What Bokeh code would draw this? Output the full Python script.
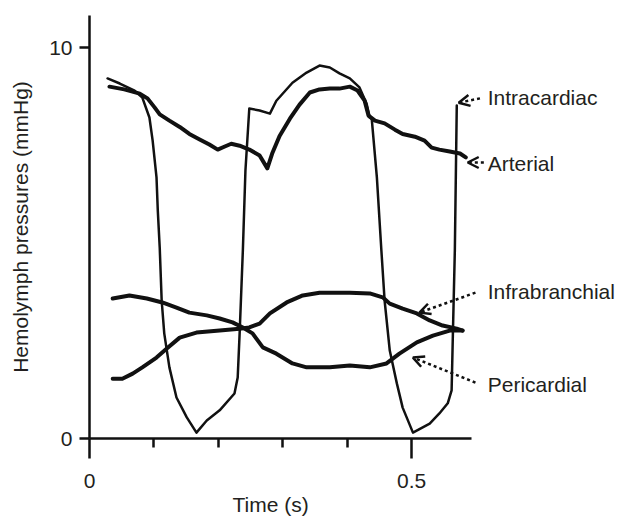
from bokeh.plotting import figure
from bokeh.models import FixedTicker, Arrow, OpenHead, Label, Title
from bokeh.embed import file_html
from bokeh.resources import INLINE

# ---- data: time (s) and hemolymph pressure (mmHg) ----
intra_t = [0.028, 0.047, 0.070, 0.082, 0.093, 0.098, 0.104, 0.106, 0.109, 0.112, 0.116, 0.124,
           0.135, 0.151, 0.166, 0.182, 0.202, 0.225, 0.230, 0.233, 0.236, 0.238, 0.242, 0.248,
           0.264, 0.280, 0.290, 0.315, 0.337, 0.357, 0.373, 0.388, 0.404, 0.419, 0.430, 0.435,
           0.438, 0.446, 0.453, 0.458, 0.466, 0.477, 0.486, 0.502, 0.528, 0.543, 0.556, 0.562,
           0.564, 0.567, 0.570]
intra_p = [9.21, 9.08, 8.90, 8.72, 8.21, 7.62, 6.68, 5.83, 4.88, 3.53, 2.69, 1.82,
           1.05, 0.54, 0.15, 0.46, 0.72, 1.15, 1.56, 2.69, 3.96, 4.81, 6.85, 8.44,
           8.39, 8.31, 8.64, 9.10, 9.36, 9.54, 9.49, 9.34, 9.21, 8.98, 8.57, 8.21,
           8.18, 6.68, 4.81, 3.53, 2.25, 1.41, 0.79, 0.15, 0.38, 0.64, 0.90, 1.23,
           2.69, 4.81, 8.52]

art_t = [0.031, 0.054, 0.078, 0.090, 0.101, 0.109, 0.124, 0.140, 0.155, 0.171, 0.186, 0.199,
         0.210, 0.220, 0.233, 0.248, 0.264, 0.276, 0.284, 0.295, 0.311, 0.326, 0.342, 0.357,
         0.373, 0.388, 0.404, 0.416, 0.427, 0.433, 0.443, 0.458, 0.474, 0.486, 0.505, 0.520,
         0.531, 0.543, 0.559, 0.575, 0.584]
art_p = [9.00, 8.93, 8.82, 8.70, 8.47, 8.29, 8.13, 7.97, 7.79, 7.65, 7.52, 7.39,
         7.47, 7.54, 7.49, 7.39, 7.24, 6.91, 7.31, 7.74, 8.18, 8.54, 8.85, 8.93,
         8.95, 8.95, 9.00, 8.90, 8.64, 8.26, 8.13, 8.06, 7.90, 7.79, 7.72, 7.62,
         7.44, 7.39, 7.34, 7.29, 7.19]

infra_t = [0.036, 0.051, 0.067, 0.082, 0.104, 0.120, 0.140, 0.166, 0.202, 0.233, 0.248, 0.264,
           0.280, 0.306, 0.331, 0.357, 0.404, 0.435, 0.455, 0.466, 0.486, 0.508, 0.528, 0.548,
           0.570, 0.579]
infra_p = [1.53, 1.53, 1.66, 1.82, 2.07, 2.30, 2.58, 2.71, 2.76, 2.81, 2.84, 2.94,
           3.20, 3.48, 3.66, 3.73, 3.73, 3.71, 3.61, 3.45, 3.32, 3.20, 3.02, 2.89,
           2.81, 2.76]

peri_t = [0.036, 0.062, 0.089, 0.113, 0.135, 0.155, 0.182, 0.202, 0.222, 0.238, 0.253, 0.269,
          0.290, 0.315, 0.337, 0.373, 0.404, 0.435, 0.461, 0.481, 0.508, 0.533, 0.559, 0.579]
peri_p = [3.58, 3.66, 3.58, 3.48, 3.35, 3.22, 3.15, 3.07, 2.97, 2.84, 2.69, 2.33,
          2.17, 1.92, 1.82, 1.82, 1.87, 1.82, 1.92, 2.17, 2.46, 2.63, 2.76, 2.76]

x_major = [0, 0.5]
x_minor = [0.1, 0.2, 0.3, 0.4]
y_major = [0, 10]

FONT = "Liberation Sans"
FS = "21px"
TXT = "#231f20"
INK = "#111111"

p = figure(frame_width=529, frame_height=423, x_range=(0, 0.821), y_range=(0, 10.82),
           output_backend="svg", toolbar_location=None,
           min_border_left=89, min_border_right=0, min_border_top=15, min_border_bottom=81)
p.xgrid.visible = False
p.ygrid.visible = False
p.outline_line_color = None
p.background_fill_color = "white"
p.border_fill_color = "white"

# x axis
xa = p.xaxis[0]
xa.ticker = FixedTicker(ticks=x_major, minor_ticks=x_minor)
xa.bounds = (0, 0.593)
xa.major_label_overrides = {0: "0", 0.5: "0.5"}
xa.major_tick_out = 20
xa.major_tick_in = 0
xa.minor_tick_out = 9
xa.minor_tick_in = 0
xa.major_label_standoff = 15

# y axis
ya = p.yaxis[0]
ya.ticker = FixedTicker(ticks=y_major, minor_ticks=[])
ya.major_tick_out = 10
ya.major_tick_in = 0
ya.minor_tick_out = 0
ya.minor_tick_in = 0
ya.major_label_standoff = 7
ya.axis_label = "Hemolymph pressures (mmHg)"
ya.axis_label_standoff = 14

for ax in (xa, ya):
    ax.axis_line_width = 2.5
    ax.axis_line_color = INK
    ax.major_tick_line_width = 2.5
    ax.major_tick_line_color = INK
    ax.minor_tick_line_width = 2.5
    ax.minor_tick_line_color = INK
    ax.major_label_text_font = FONT
    ax.major_label_text_font_size = FS
    ax.major_label_text_color = TXT
    ax.axis_label_text_font = FONT
    ax.axis_label_text_font_size = FS
    ax.axis_label_text_font_style = "normal"
    ax.axis_label_text_color = TXT

# x-axis title, centred under the drawn axis line (not the whole frame)
p.add_layout(Title(text="Time (s)", align="left", offset=143, standoff=0,
                   text_font=FONT, text_font_size=FS, text_font_style="normal",
                   text_color=TXT), "below")

# traces
p.line(art_t, art_p, line_width=4, line_color=INK, line_join="round", line_cap="round")
p.line(infra_t, infra_p, line_width=4, line_color=INK, line_join="round", line_cap="round")
p.line(peri_t, peri_p, line_width=4, line_color=INK, line_join="round", line_cap="round")
p.line(intra_t, intra_p, line_width=2.5, line_color=INK, line_join="round", line_cap="round")

# annotations: dotted arrows + labels
arrows = [
    ("Intracardiac", (0.606, 8.70), (0.573, 8.59), 8.72),
    ("Arterial", (0.612, 7.06), (0.587, 7.06), 7.03),
    ("Infrabranchial", (0.599, 3.73), (0.512, 3.22), 3.75),
    ("Pericardial", (0.599, 1.43), (0.502, 2.07), 1.38),
]
for name, (xs, ys), (xe, ye), ly in arrows:
    p.add_layout(Arrow(x_start=xs, y_start=ys, x_end=xe, y_end=ye,
                       line_dash="3 3", line_width=2.5, line_color=INK,
                       end=OpenHead(size=11, line_width=2.5, line_color=INK)))
    p.add_layout(Label(x=0.618, y=ly, text=name, text_baseline="middle", text_align="left",
                       text_font=FONT, text_font_size=FS, text_color=TXT))

open("out.html", "w").write(file_html(p, INLINE))
